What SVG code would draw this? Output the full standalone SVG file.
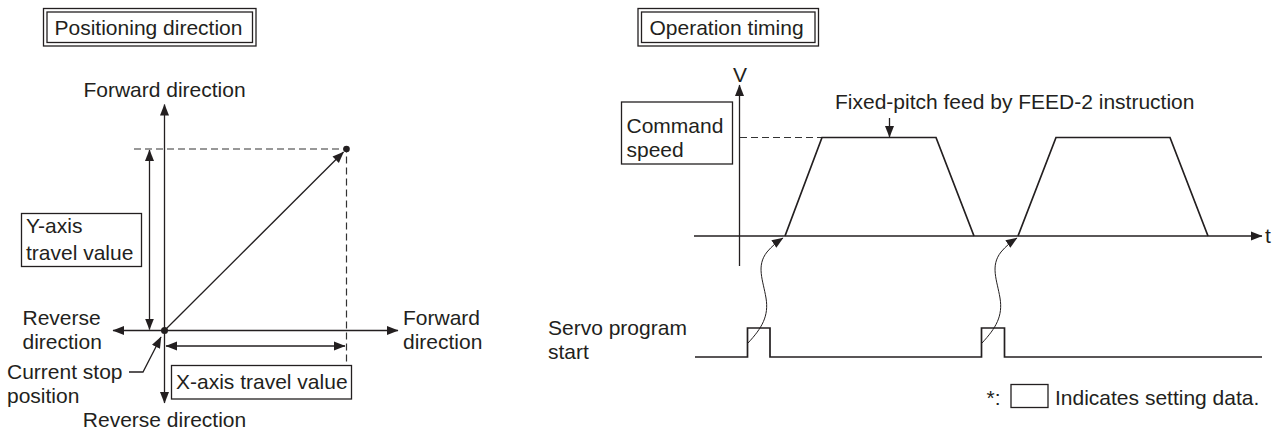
<svg xmlns="http://www.w3.org/2000/svg" width="1278" height="430" viewBox="0 0 1278 430">
<style>
text{font-family:"Liberation Sans",Arial,sans-serif;font-size:21px;fill:#231f20}
.ln{stroke:#231f20;stroke-width:1.3;fill:none}
.thick{stroke:#231f20;stroke-width:1.7;fill:none}
.thin{stroke:#231f20;stroke-width:1;fill:none}
.dash{stroke:#333;stroke-width:1.2;fill:none;stroke-dasharray:7 4}
.box{stroke:#231f20;stroke-width:1.3;fill:#fff}
</style>
<defs>
<marker id="ah" markerUnits="userSpaceOnUse" markerWidth="12" markerHeight="10" refX="11" refY="5" orient="auto-start-reverse" viewBox="0 0 12 10">
<path d="M0,0.5 L11.5,5 L0,9.5 z" fill="#231f20"/>
</marker>
</defs>
<rect width="1278" height="430" fill="#fff"/>

<g id="left-title">
<rect x="43.5" y="8.5" width="212.5" height="37.5" class="box"/>
<rect x="47" y="12" width="205.5" height="30.5" class="box"/>
<text x="54.5" y="35">Positioning direction</text>
</g>

<g id="left-connectors">
<line x1="164.5" y1="403" x2="164.5" y2="104.5" class="ln" marker-start="url(#ah)" marker-end="url(#ah)"/>
<line x1="113" y1="330.5" x2="398" y2="330.5" class="ln" marker-start="url(#ah)" marker-end="url(#ah)"/>
<line x1="164.5" y1="330.5" x2="343.5" y2="152" class="ln" marker-end="url(#ah)"/>
<path d="M134,149 H346.5 V362" class="dash"/>
<line x1="149.5" y1="150" x2="149.5" y2="329.5" class="ln" marker-start="url(#ah)" marker-end="url(#ah)"/>
<line x1="166" y1="346" x2="345" y2="346" class="ln" marker-start="url(#ah)" marker-end="url(#ah)"/>
<path d="M129,372 H143 L161,337" class="ln" marker-end="url(#ah)"/>
<circle cx="164.5" cy="330.5" r="3.5" fill="#231f20"/>
<circle cx="346.5" cy="149" r="3.3" fill="#231f20"/>
</g>

<g id="forward-up"><text x="164.5" y="96.5" text-anchor="middle">Forward direction</text></g>
<g id="reverse-down"><text x="164.5" y="427" text-anchor="middle">Reverse direction</text></g>
<g id="reverse-left"><text x="22.5" y="325">Reverse</text><text x="22.5" y="349">direction</text></g>
<g id="forward-right"><text x="403" y="325">Forward</text><text x="403" y="349">direction</text></g>
<g id="current-stop"><text x="7" y="379">Current stop</text><text x="7" y="403">position</text></g>
<g id="y-travel">
<rect x="21.5" y="213.5" width="120" height="53" class="box"/>
<text x="26" y="233">Y-axis</text>
<text x="26" y="259.5">travel value</text>
</g>
<g id="x-travel">
<rect x="171.5" y="365.5" width="180" height="33.5" class="box"/>
<text x="176" y="388.5">X-axis travel value</text>
</g>

<g id="right-title">
<rect x="638" y="8.5" width="180.5" height="37.5" class="box"/>
<rect x="641.5" y="12" width="173.5" height="30.5" class="box"/>
<text x="649.5" y="35">Operation timing</text>
</g>

<g id="timing-connectors">
<line x1="739.5" y1="266" x2="739.5" y2="85" class="ln" marker-end="url(#ah)"/>
<line x1="694" y1="236" x2="1262" y2="236" class="ln" marker-end="url(#ah)"/>
<path d="M740,137.5 H822" class="dash"/>
<path d="M785,236 L822,137.5 H936 L974,236" class="thick"/>
<path d="M1018,236 L1056,137.5 H1170 L1208,236" class="thick"/>
<line x1="889.5" y1="118" x2="889.5" y2="137" class="ln" marker-end="url(#ah)"/>
<path d="M695,357 H747.5 V328 H770 V357 H981.5 V328 H1004.5 V357 H1262" class="thick"/>
<path d="M748,343 C762,328 769,316 766,298 C763,280 756,266 767,252 C772,246 777,242 783,238" class="thin" marker-end="url(#ah)"/>
<path d="M982,343 C996,328 1003,316 1000,298 C997,280 990,266 1001,252 C1006,246 1011,242 1017,238" class="thin" marker-end="url(#ah)"/>
</g>

<g id="v-label"><text x="740" y="82" text-anchor="middle">V</text></g>
<g id="t-label"><text x="1265" y="243">t</text></g>
<g id="command-speed">
<rect x="621.5" y="102" width="111" height="62" class="box"/>
<text x="626.5" y="132.5">Command</text>
<text x="626.5" y="156.5">speed</text>
</g>
<g id="feed-label"><text x="835" y="108.5">Fixed-pitch feed by FEED-2 instruction</text></g>
<g id="servo-start"><text x="548" y="335">Servo program</text><text x="548" y="359">start</text></g>
<g id="footnote">
<text x="986.5" y="404.5">*:</text>
<rect x="1011" y="384.5" width="37" height="23" class="box"/>
<text x="1055" y="404.5">Indicates setting data.</text>
</g>
</svg>
